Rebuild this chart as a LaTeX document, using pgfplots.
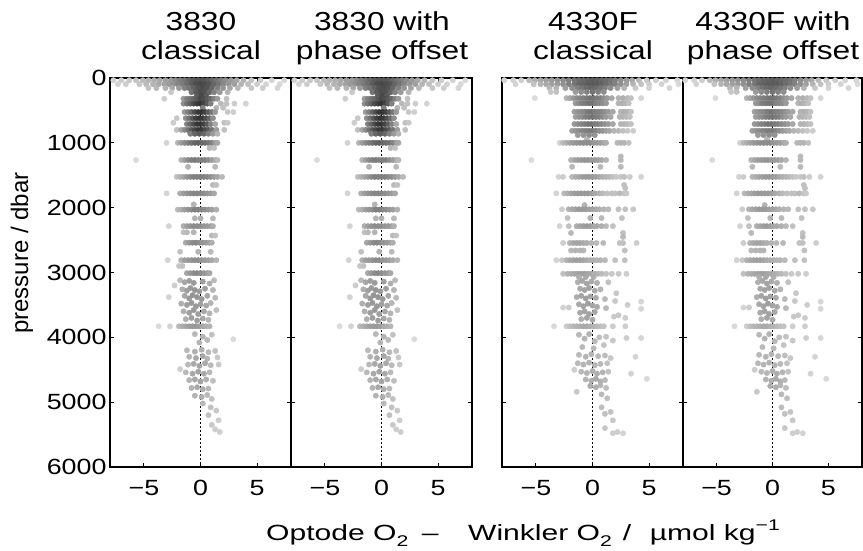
\documentclass[border=0pt]{standalone}
\usepackage{pgfplots}
\pgfplotsset{compat=1.18}
\usepackage{pgfplotstable}
\usepackage{graphicx}
\usepackage{fontspec}
\setmainfont{Liberation Sans}[FakeStretch=1.22]
\newfontfamily\plainsans{Liberation Sans}
\newcommand\fs{\fontsize{22}{26}\selectfont}
\newcommand\fst{\fontsize{26}{30}\selectfont}
\newcommand\fss{\fontsize{15.5}{15.5}\selectfont}

% 3830 optode: x = Optode - Winkler, p = pressure, c = grey level of the dot
\pgfplotstableread[row sep=\\]{
x p c\\
-7.7 35 .82\\ -7.0 35 .80\\ -6.3 35 .78\\ -5.7 35 .76\\ -5.1 35 .73\\ -4.6 35 .70\\ -4.1 35 .68\\ -3.6 35 .65\\ -3.1 35 .62\\ -2.6 35 .60\\ -2.2 35 .55\\ -1.8 35 .50\\ -1.4 35 .45\\ -1.0 35 .40\\ -0.6 35 .35\\ -0.2 35 .33\\ 0.2 35 .33\\ 0.6 35 .35\\ 1.0 35 .40\\ 1.4 35 .45\\ 1.8 35 .50\\ 2.2 35 .55\\ 2.7 35 .60\\ 3.2 35 .65\\ 3.8 35 .70\\ 4.5 35 .76\\ 5.3 35 .80\\ 6.3 35 .82\\ 7.4 35 .84\\
-7.3 95 .82\\ -6.6 95 .80\\ -5.4 95 .77\\ -4.8 95 .72\\ -4.2 95 .70\\ -3.7 95 .66\\ -3.2 95 .63\\ -2.8 95 .60\\ -2.4 95 .57\\ -2.0 95 .52\\ -1.6 95 .48\\ -1.2 95 .42\\ -0.8 95 .36\\ -0.4 95 .30\\ 0.0 95 .28\\ 0.4 95 .30\\ 0.8 95 .33\\ 1.2 95 .40\\ 1.6 95 .45\\ 2.0 95 .52\\ 2.5 95 .58\\ 3.0 95 .62\\ 3.6 95 .70\\ 4.2 95 .74\\ 5.0 95 .80\\ 5.8 95 .82\\ 7.0 95 .84\\
-4.6 155 .76\\ -3.9 155 .72\\ -3.1 155 .70\\ -2.5 155 .66\\ -1.9 155 .60\\ -1.4 155 .50\\ -1.0 155 .45\\ -0.6 155 .38\\ -0.2 155 .32\\ 0.2 155 .30\\ 0.6 155 .33\\ 1.0 155 .40\\ 1.5 155 .50\\ 2.0 155 .58\\ 2.6 155 .65\\ 3.3 155 .72\\ 4.5 155 .78\\ 5.5 155 .80\\ 6.8 155 .83\\
-2.6 220 .78\\ -0.8 220 .45\\ -0.4 220 .35\\ 0.0 220 .30\\ 0.4 220 .32\\ 0.8 220 .40\\ 1.2 220 .50\\ 1.7 220 .60\\ 2.4 220 .70\\
-0.3 275 .35\\ 0.1 275 .28\\ 0.5 275 .35\\
-3.2 320 .80\\ -1.5 320 .60\\ -1.2 320 .50\\ -0.9 320 .45\\ -0.6 320 .40\\ -0.3 320 .35\\ 0.0 320 .28\\ 0.3 320 .30\\ 0.6 320 .35\\ 0.9 320 .40\\ 1.2 320 .50\\ 1.5 320 .60\\ 2.3 320 .75\\
-1.5 395 .55\\ -1.2 395 .45\\ -0.9 395 .38\\ -0.6 395 .30\\ -0.3 395 .25\\ 0.0 395 .20\\ 0.3 395 .25\\ 0.6 395 .35\\ 0.9 395 .50\\ 1.8 395 .72\\ 2.3 395 .75\\ 3.0 395 .80\\ 4.0 395 .82\\
0.2 460 .50\\ 1.4 460 .70\\ 2.0 460 .75\\
-1.4 525 .60\\ -1.1 525 .50\\ -0.8 525 .40\\ -0.5 525 .30\\ -0.2 525 .22\\ 0.1 525 .20\\ 0.4 525 .25\\ 0.7 525 .35\\ 1.0 525 .45\\ 1.3 525 .60\\ 2.4 525 .78\\ 2.9 525 .80\\
-2.1 620 .78\\ -1.3 620 .55\\ -1.0 620 .45\\ -0.7 620 .35\\ -0.4 620 .25\\ -0.1 620 .20\\ 0.2 620 .22\\ 0.5 620 .30\\ 0.8 620 .40\\ 1.1 620 .55\\
-2.4 690 .80\\ 2.1 690 .75\\ 2.4 690 .78\\
-1.2 710 .50\\ -0.9 710 .40\\ -0.6 710 .30\\ -0.3 710 .22\\ 0.0 710 .20\\ 0.3 710 .25\\ 0.6 710 .35\\ 0.9 710 .50\\ 1.3 710 .65\\
-2.1 800 .75\\ -1.7 800 .65\\ -1.4 800 .55\\ -1.1 800 .45\\ -0.8 800 .35\\ -0.5 800 .28\\ -0.2 800 .22\\ 0.1 800 .22\\ 0.4 800 .28\\ 0.7 800 .35\\ 1.0 800 .45\\ 1.4 800 .60\\ 2.1 800 .75\\
-0.9 860 .50\\ -0.5 860 .40\\ -0.1 860 .35\\ 0.3 860 .40\\ 0.7 860 .50\\ 1.1 860 .60\\ 1.5 860 .70\\
-3.0 1000 .82\\ -2.0 1000 .70\\ -1.7 1000 .62\\ -1.4 1000 .55\\ -1.1 1000 .50\\ -0.8 1000 .45\\ -0.5 1000 .40\\ -0.2 1000 .38\\ 0.1 1000 .40\\ 0.4 1000 .42\\ 0.7 1000 .45\\ 1.0 1000 .50\\ 1.3 1000 .60\\ 1.5 1000 .65\\
0.8 1080 .72\\ 1.2 1080 .75\\
-5.7 1265 .85\\ -1.7 1265 .70\\ -1.4 1265 .62\\ -1.1 1265 .55\\ -0.8 1265 .50\\ -0.5 1265 .48\\ -0.2 1265 .50\\ 0.1 1265 .50\\ 0.4 1265 .50\\ 0.7 1265 .55\\ 1.0 1265 .60\\ 1.3 1265 .65\\ 1.5 1265 .72\\
-1.1 1370 .70\\ 1.3 1370 .72\\
-2.1 1525 .75\\ -1.8 1525 .70\\ -1.5 1525 .65\\ -1.2 1525 .60\\ -0.9 1525 .55\\ -0.6 1525 .50\\ -0.3 1525 .50\\ 0.0 1525 .50\\ 0.3 1525 .50\\ 0.6 1525 .52\\ 0.9 1525 .55\\ 1.2 1525 .60\\ 1.5 1525 .65\\ 1.9 1525 .72\\
1.1 1650 .72\\ 1.4 1650 .75\\
-3.0 1780 .82\\ -1.8 1780 .68\\ -1.5 1780 .62\\ -1.2 1780 .58\\ -0.9 1780 .55\\ -0.6 1780 .52\\ -0.3 1780 .52\\ 0.0 1780 .52\\ 0.3 1780 .55\\ 0.6 1780 .58\\ 0.9 1780 .60\\ 1.2 1780 .65\\
-0.6 1950 .70\\
-2.0 2030 .72\\ -1.7 2030 .68\\ -1.4 2030 .62\\ -1.1 2030 .58\\ -0.8 2030 .55\\ -0.5 2030 .50\\ -0.2 2030 .50\\ 0.1 2030 .52\\ 0.4 2030 .55\\ 0.7 2030 .58\\ 1.0 2030 .62\\ 1.4 2030 .68\\
-0.5 2165 .70\\ 0.0 2165 .68\\ 1.1 2165 .72\\
-2.8 2285 .82\\ -1.5 2285 .68\\ -1.2 2285 .62\\ -0.9 2285 .58\\ -0.6 2285 .55\\ -0.3 2285 .55\\ 0.0 2285 .55\\ 0.3 2285 .58\\ 0.6 2285 .60\\ 0.9 2285 .62\\ 1.1 2285 .68\\
-1.5 2380 .75\\ -1.2 2380 .72\\ -0.6 2380 .70\\ 1.0 2430 .72\\ 1.3 2430 .75\\
-1.3 2540 .65\\ -1.0 2540 .60\\ -0.7 2540 .55\\ -0.4 2540 .52\\ -0.1 2540 .55\\ 0.2 2540 .58\\ 0.5 2540 .60\\ 0.8 2540 .62\\ 1.0 2540 .68\\
-1.8 2680 .75\\ -0.2 2680 .70\\ 0.9 2680 .72\\
-2.9 2810 .82\\ -1.7 2810 .68\\ -1.4 2810 .62\\ -1.1 2810 .60\\ -0.8 2810 .58\\ -0.5 2810 .55\\ -0.2 2810 .55\\ 0.1 2810 .58\\ 0.4 2810 .60\\ 0.7 2810 .62\\ 1.0 2810 .65\\ 1.4 2810 .70\\
-1.9 2900 .78\\ -1.6 2900 .75\\
-1.2 3010 .65\\ -0.9 3010 .60\\ -0.6 3010 .55\\ -0.3 3010 .52\\ 0.0 3010 .55\\ 0.3 3010 .58\\ 0.6 3010 .60\\ 0.8 3010 .65\\
-2.3 3200 .80\\ -1.8 3120 .72\\ -1.4 3150 .65\\ -1.0 3130 .62\\ -0.6 3160 .60\\ 0.2 3140 .62\\ 0.8 3170 .68\\ 1.2 3120 .72\\
-1.6 3260 .68\\ -1.2 3280 .62\\ -0.9 3240 .60\\ -0.5 3270 .58\\ -0.1 3290 .60\\ 0.4 3250 .62\\ 1.1 3270 .70\\
-2.8 3380 .82\\ -1.4 3360 .65\\ -1.0 3400 .60\\ -0.7 3350 .58\\ -0.3 3380 .58\\ 0.1 3410 .60\\ 0.6 3360 .65\\ 1.3 3390 .72\\
-1.7 3480 .68\\ -1.2 3500 .62\\ -0.8 3470 .60\\ -0.4 3520 .60\\ 0.0 3490 .62\\ 0.5 3510 .65\\ 0.9 3470 .70\\
-1.5 3600 .68\\ -1.0 3620 .62\\ -0.6 3580 .60\\ -0.2 3640 .62\\ 0.3 3600 .65\\ 0.8 3630 .70\\ 1.4 3580 .75\\
-1.3 3720 .68\\ -0.8 3700 .62\\ -0.3 3740 .62\\ 0.2 3710 .65\\ 0.7 3730 .70\\
-3.7 3830 .85\\ -2.7 3830 .82\\ -1.9 3830 .72\\ -1.6 3830 .68\\ -1.3 3830 .65\\ -1.0 3830 .62\\ -0.7 3830 .60\\ -0.4 3830 .60\\ -0.1 3830 .62\\ 0.2 3830 .65\\ 0.5 3830 .68\\ 0.8 3830 .70\\
-0.5 3950 .72\\ 0.2 3990 .70\\ 0.6 4040 .72\\ 1.0 3960 .75\\ 2.9 4030 .85\\ -0.1 4080 .70\\
-1.2 4200 .72\\ -0.5 4220 .68\\ 0.1 4190 .68\\ 0.7 4230 .72\\ 1.3 4210 .75\\
-1.0 4300 .70\\ -0.4 4320 .66\\ 0.2 4290 .66\\ 0.6 4330 .70\\ 1.5 4310 .78\\
-1.8 4490 .80\\ -1.1 4420 .72\\ -0.6 4410 .66\\ -0.1 4440 .64\\ 0.4 4400 .66\\ 0.9 4430 .72\\ 1.6 4420 .78\\
-1.3 4540 .72\\ -0.7 4560 .66\\ -0.2 4530 .64\\ 0.3 4560 .66\\ 0.8 4540 .72\\
-1.0 4660 .70\\ -0.5 4650 .66\\ 0.0 4680 .64\\ 0.5 4650 .68\\ 1.1 4670 .74\\
-0.8 4780 .70\\ -0.3 4770 .66\\ 0.2 4800 .68\\ 0.7 4790 .72\\
-0.5 4900 .70\\ 0.1 4920 .68\\ 0.6 4890 .72\\ 1.0 4950 .75\\
0.2 5020 .72\\ 0.9 5080 .75\\ 1.4 5130 .78\\ 0.7 5200 .75\\ 1.6 5280 .80\\ 1.0 5350 .78\\ 1.3 5420 .80\\ 1.7 5460 .80\\
}\tA

% 4330F optode
\pgfplotstableread[row sep=\\]{
x p c\\
-7.8 35 .83\\ -7.0 35 .82\\ -6.3 35 .80\\ -5.6 35 .72\\ -5.1 35 .68\\ -4.6 35 .65\\ -4.1 35 .62\\ -3.6 35 .60\\ -3.1 35 .58\\ -2.6 35 .55\\ -2.1 35 .50\\ -1.6 35 .45\\ -1.2 35 .42\\ -0.8 35 .40\\ -0.4 35 .38\\ 0.0 35 .36\\ 0.4 35 .38\\ 0.8 35 .40\\ 1.2 35 .42\\ 1.6 35 .45\\ 2.0 35 .50\\ 2.5 35 .55\\ 3.0 35 .60\\ 3.5 35 .65\\ 4.1 35 .72\\ 4.8 35 .78\\ 5.6 35 .80\\ 6.5 35 .82\\ 7.5 35 .83\\
-6.8 95 .82\\ -5.2 95 .75\\ -4.6 95 .70\\ -4.1 95 .66\\ -3.6 95 .62\\ -3.1 95 .60\\ -2.6 95 .56\\ -2.1 95 .50\\ -1.6 95 .45\\ -1.2 95 .40\\ -0.8 95 .38\\ -0.4 95 .36\\ 0.0 95 .35\\ 0.4 95 .36\\ 0.8 95 .38\\ 1.2 95 .42\\ 1.6 95 .46\\ 2.0 95 .50\\ 2.5 95 .56\\ 3.0 95 .62\\ 3.6 95 .70\\ 4.3 95 .75\\ 5.0 95 .80\\ 6.1 95 .82\\ 7.6 95 .84\\
-3.8 155 .72\\ -3.2 155 .70\\ -2.4 155 .62\\ -1.8 155 .55\\ -1.3 155 .50\\ -0.9 155 .45\\ -0.5 155 .42\\ -0.1 155 .40\\ 0.3 155 .42\\ 0.7 155 .45\\ 1.1 155 .50\\ 1.6 155 .55\\ 2.2 155 .62\\ 2.8 155 .70\\ 3.8 155 .78\\ 5.0 155 .82\\ 6.8 155 .83\\
-3.7 215 .78\\ -3.2 215 .75\\ -1.5 215 .60\\ -1.0 215 .55\\ -0.5 215 .50\\ 0.0 215 .45\\ 0.5 215 .50\\ 1.0 215 .55\\
-5.1 310 .85\\ -2.3 310 .70\\ -2.0 310 .65\\ -1.7 310 .60\\ -1.4 310 .55\\ -1.1 310 .52\\ -0.8 310 .50\\ -0.5 310 .48\\ -0.2 310 .45\\ 0.1 310 .45\\ 0.4 310 .48\\ 0.7 310 .50\\ 1.0 310 .55\\ 1.3 310 .60\\ 1.7 310 .65\\ 2.3 310 .70\\ 2.7 310 .68\\ 3.1 310 .72\\ 3.4 310 .75\\ 4.3 310 .83\\
-1.5 390 .60\\ -1.2 390 .55\\ -0.9 390 .50\\ -0.6 390 .48\\ -0.3 390 .45\\ 0.0 390 .45\\ 0.3 390 .50\\ 0.6 390 .52\\ 0.9 390 .55\\ 1.2 390 .60\\ 2.3 390 .70\\ 2.6 390 .68\\ 2.9 390 .70\\ 3.2 390 .75\\
-1.6 520 .62\\ -1.3 520 .58\\ -1.0 520 .55\\ -0.7 520 .52\\ -0.4 520 .48\\ -0.1 520 .45\\ 0.2 520 .48\\ 0.5 520 .50\\ 0.8 520 .52\\ 1.1 520 .55\\ 1.4 520 .60\\ 1.8 520 .65\\ 2.5 520 .70\\ 2.8 520 .68\\ 3.1 520 .70\\ 3.4 520 .75\\
-1.5 600 .62\\ -1.2 600 .58\\ -0.9 600 .55\\ -0.6 600 .50\\ -0.3 600 .48\\ 0.0 600 .45\\ 0.3 600 .48\\ 0.6 600 .50\\ 0.9 600 .55\\ 1.2 600 .60\\ 1.6 600 .65\\ 2.4 600 .70\\ 2.7 600 .70\\ 3.0 600 .72\\ 3.3 600 .75\\
-1.6 710 .60\\ -1.3 710 .56\\ -1.0 710 .52\\ -0.7 710 .50\\ -0.4 710 .46\\ -0.1 710 .45\\ 0.2 710 .48\\ 0.5 710 .50\\ 0.8 710 .53\\ 1.1 710 .56\\ 1.4 710 .60\\ 1.8 710 .65\\ 2.5 710 .70\\ 2.8 710 .70\\ 3.1 710 .72\\ 3.4 710 .75\\
-1.8 815 .62\\ -1.5 815 .58\\ -1.2 815 .55\\ -0.9 815 .52\\ -0.6 815 .50\\ -0.3 815 .48\\ 0.0 815 .48\\ 0.3 815 .50\\ 0.6 815 .55\\ 0.9 815 .58\\ 1.2 815 .62\\ 1.5 815 .65\\ 1.9 815 .70\\ 2.3 815 .72\\ 2.7 815 .75\\ 3.1 815 .78\\ 3.6 815 .80\\
-1.3 880 .60\\ -0.8 880 .58\\ -0.3 880 .55\\ 0.2 880 .58\\ -0.5 950 .70\\
-2.9 1000 .82\\ -2.6 1000 .72\\ -2.3 1000 .68\\ -2.0 1000 .64\\ -1.7 1000 .60\\ -1.4 1000 .58\\ -1.1 1000 .56\\ -0.8 1000 .55\\ -0.5 1000 .55\\ -0.2 1000 .55\\ 0.1 1000 .58\\ 0.4 1000 .60\\ 0.7 1000 .62\\ 1.0 1000 .65\\ 1.2 1000 .68\\ 2.2 1000 .72\\ 2.5 1000 .70\\ 2.8 1000 .70\\ 3.2 1000 .75\\
2.5 1210 .72\\
-5.4 1265 .85\\ -1.9 1265 .70\\ -1.6 1265 .65\\ -1.3 1265 .62\\ -1.0 1265 .60\\ -0.7 1265 .58\\ -0.4 1265 .58\\ -0.1 1265 .60\\ 0.2 1265 .60\\ 0.5 1265 .62\\ 0.8 1265 .65\\ 1.2 1265 .70\\ 2.5 1265 .72\\
-1.8 1370 .72\\ 0.7 1370 .72\\ 2.5 1370 .72\\
-3.0 1525 .82\\ -2.6 1525 .80\\ -1.8 1525 .72\\ -1.5 1525 .68\\ -1.2 1525 .65\\ -0.9 1525 .62\\ -0.6 1525 .60\\ -0.3 1525 .60\\ 0.0 1525 .60\\ 0.3 1525 .62\\ 0.6 1525 .65\\ 0.9 1525 .68\\ 1.2 1525 .70\\ 1.5 1525 .72\\ 1.8 1525 .75\\ 2.1 1525 .78\\ 2.5 1525 .78\\ 2.8 1525 .75\\ 3.3 1525 .80\\ 4.3 1525 .82\\
2.8 1650 .75\\ 2.9 1700 .75\\
-3.2 1780 .82\\ -2.5 1780 .72\\ -2.2 1780 .68\\ -1.9 1780 .65\\ -1.6 1780 .62\\ -1.3 1780 .60\\ -1.0 1780 .60\\ -0.7 1780 .60\\ -0.4 1780 .60\\ -0.1 1780 .62\\ 0.2 1780 .65\\ 0.6 1780 .68\\ 0.9 1780 .72\\ 1.3 1780 .75\\ 1.7 1780 .75\\ 2.0 1780 .75\\ 2.4 1780 .72\\ 2.8 1780 .75\\ 3.0 1780 .78\\
-0.7 1960 .70\\
-2.7 2025 .80\\ -2.1 2025 .70\\ -1.8 2025 .66\\ -1.5 2025 .63\\ -1.2 2025 .60\\ -0.9 2025 .60\\ -0.6 2025 .60\\ -0.3 2025 .62\\ 0.0 2025 .63\\ 0.3 2025 .65\\ 0.6 2025 .68\\ 1.0 2025 .70\\ 1.4 2025 .72\\ 2.3 2025 .75\\ 2.9 2025 .75\\ 3.6 2025 .78\\
-2.2 2160 .75\\ -0.2 2160 .70\\ 0.8 2160 .72\\ 2.6 2160 .75\\
-2.9 2285 .82\\ -2.1 2285 .75\\ -1.4 2285 .68\\ -1.1 2285 .65\\ -0.8 2285 .62\\ -0.5 2285 .60\\ -0.2 2285 .62\\ 0.1 2285 .65\\ 0.4 2285 .66\\ 0.8 2285 .68\\ 1.2 2285 .72\\ 1.8 2285 .75\\
-1.9 2390 .72\\ 2.7 2390 .75\\ 2.7 2450 .72\\
-2.6 2545 .80\\ -2.0 2545 .70\\ -1.7 2545 .66\\ -1.4 2545 .64\\ -1.1 2545 .64\\ -0.8 2545 .66\\ -0.5 2545 .68\\ -0.1 2545 .70\\ 0.35 2545 .72\\ 0.95 2545 .72\\ 2.4 2545 .75\\ 2.7 2545 .75\\ 3.9 2545 .80\\
-1.9 2660 .72\\ -1.5 2660 .70\\ -1.1 2660 .70\\ -0.8 2660 .70\\ 2.85 2660 .75\\
-3.2 2810 .82\\ -2.7 2810 .78\\ -2.3 2810 .70\\ -2.0 2810 .66\\ -1.7 2810 .64\\ -1.4 2810 .62\\ -1.1 2810 .62\\ -0.8 2810 .64\\ -0.5 2810 .66\\ -0.2 2810 .68\\ 0.1 2810 .68\\ 0.4 2810 .70\\ 0.7 2810 .70\\ 1.1 2810 .72\\ 2.0 2810 .75\\ 2.85 2810 .75\\
-2.6 3020 .75\\ -2.2 3020 .70\\ -1.9 3020 .68\\ -1.6 3020 .66\\ -1.3 3020 .64\\ -1.0 3020 .62\\ -0.7 3020 .62\\ -0.4 3020 .64\\ -0.1 3020 .66\\ 0.2 3020 .68\\ 0.5 3020 .70\\ 0.8 3020 .72\\ 1.2 3020 .75\\ 1.7 3020 .78\\ 2.3 3020 .78\\ 3.0 3020 .80\\
-1.2 3070 .68\\ -0.6 3070 .66\\ 0.1 3070 .68\\
-1.3 3150 .68\\ -0.9 3130 .65\\ -0.5 3170 .64\\ -0.1 3140 .66\\ 0.4 3160 .68\\ 1.4 3150 .75\\
-1.1 3250 .66\\ -0.7 3270 .64\\ -0.3 3240 .64\\ 0.2 3280 .66\\ 0.7 3260 .70\\ 2.1 3320 .78\\
-1.4 3380 .68\\ -1.0 3360 .64\\ -0.6 3400 .62\\ -0.2 3370 .64\\ 0.3 3390 .66\\ 1.1 3410 .72\\
-2.6 3540 .82\\ -2.1 3540 .80\\ -1.2 3490 .66\\ -0.8 3520 .64\\ -0.4 3480 .62\\ 0.0 3510 .64\\ 0.4 3530 .66\\ 1.2 3550 .72\\ 2.0 3440 .78\\ 4.3 3560 .83\\
-1.1 3620 .66\\ -0.7 3600 .64\\ -0.3 3640 .64\\ 0.2 3610 .66\\ 3.1 3500 .80\\ 4.3 3450 .83\\
-1.0 3720 .68\\ -0.5 3700 .64\\ 0.0 3730 .66\\ 1.9 3680 .78\\ 2.3 3660 .78\\ 2.9 3700 .80\\
-3.4 3830 .84\\ -2.3 3830 .80\\ -2.0 3830 .75\\ -1.7 3830 .72\\ -1.4 3830 .70\\ -1.1 3830 .68\\ -0.8 3830 .66\\ -0.5 3830 .66\\ -0.2 3830 .68\\ 0.1 3830 .70\\ 0.4 3830 .72\\ 0.7 3830 .74\\ 1.0 3830 .76\\ 1.8 3830 .80\\ 2.9 3830 .80\\
-1.2 3960 .72\\ -0.7 4020 .70\\ -0.3 3950 .70\\ 0.2 4060 .72\\ 0.6 4000 .74\\ 1.2 3990 .76\\ 1.8 4050 .78\\ 3.0 4010 .80\\ 4.3 4010 .83\\ -0.9 4150 .72\\ 0.1 4170 .72\\ 1.0 4120 .76\\
-1.2 4270 .72\\ -0.6 4300 .70\\ -0.1 4260 .70\\ 0.5 4290 .72\\ 1.1 4280 .74\\ 1.6 4320 .78\\ 3.8 4300 .83\\
-1.3 4400 .72\\ -0.8 4420 .70\\ -0.3 4390 .70\\ 0.2 4430 .70\\ 0.7 4410 .72\\ 1.3 4400 .75\\
-1.6 4500 .80\\ -1.0 4530 .72\\ -0.5 4550 .70\\ 0.0 4520 .68\\ 0.4 4560 .68\\ 0.9 4540 .70\\ 1.4 4530 .75\\ 3.4 4560 .82\\
-0.6 4650 .70\\ -0.1 4670 .68\\ 0.3 4640 .66\\ 0.7 4680 .68\\ 1.1 4660 .72\\ 4.8 4640 .84\\
-0.2 4750 .68\\ 0.3 4770 .68\\ 0.7 4740 .70\\ 1.2 4780 .74\\ -1.4 4840 .78\\
0.8 4880 .72\\ 1.3 4940 .74\\ 0.8 5080 .74\\ 1.1 5180 .75\\ 1.6 5150 .76\\ 1.8 5280 .78\\ 1.1 5400 .78\\ 1.8 5480 .80\\ 2.2 5460 .80\\ 2.7 5480 .82\\
}\tB

\pgfplotsset{
  panel/.style={
    scale only axis, width=181pt, height=389pt, anchor=south west,
    xmin=-8, xmax=8, ymin=0, ymax=6000, y dir=reverse,
    xtick={-5,0,5}, xticklabels={−5,0,5},
    ytick={0,1000,2000,3000,4000,5000,6000}, yticklabels={},
    tick align=inside, major tick length=4pt,
    tick style={black, line width=1pt},
    axis line style={black, line width=1.3pt},
    tick label style={font=\fs},
    xticklabel style={yshift=-10pt},
    colormap={bw}{gray(0cm)=(0); gray(1cm)=(1)},
    point meta min=0, point meta max=1,
  },
  pts/.style={scatter, only marks, mark=*, mark size=2.7pt, point meta=explicit,
    scatter/use mapped color={draw=mapped color, fill=mapped color}},
  zl/.style={black, line width=0.7pt, dash pattern=on 2pt off 2pt},
}

\begin{document}
\begin{tikzpicture}[font=\fs]
\path[use as bounding box] (0,0) rectangle (863pt,550pt);

\begin{axis}[panel, at={(110pt,83pt)}, yticklabels={0,1000,2000,3000,4000,5000,6000}]
\addplot[pts] table[x=x, y=p, meta=c] {\tA};
\addplot[zl] coordinates {(0,0) (0,6000)};
\end{axis}

\begin{axis}[panel, at={(291pt,83pt)}]
\addplot[pts] table[x=x, y=p, meta=c] {\tA};
\addplot[zl] coordinates {(0,0) (0,6000)};
\end{axis}

\begin{axis}[panel, at={(502pt,83pt)}]
\addplot[pts] table[x=x, y=p, meta=c] {\tB};
\addplot[zl] coordinates {(0,0) (0,6000)};
\end{axis}

\begin{axis}[panel, at={(683pt,83pt)}, width=179pt]
\addplot[pts] table[x=x, y=p, meta=c] {\tB};
\addplot[zl] coordinates {(0,0) (0,6000)};
\end{axis}

% titles
\begin{scope}[font=\fst]
\node[anchor=base] at (201pt,519pt) {3830};
\node[anchor=base] at (201pt,490pt) {classical};
\node[anchor=base] at (382pt,519pt) {3830 with};
\node[anchor=base] at (382pt,490pt) {phase offset};
\node[anchor=base] at (593pt,519pt) {4330F};
\node[anchor=base] at (593pt,490pt) {classical};
\node[anchor=base] at (773pt,519pt) {4330F with};
\node[anchor=base] at (773pt,490pt) {phase offset};
\end{scope}

% axis labels
\node[rotate=90, anchor=center, font=\plainsans\fontsize{24}{28}\selectfont] at (22pt,297pt) {pressure / dbar};
\node[anchor=base west, inner sep=0pt] at (266pt,10pt)
  {\scalebox{1.12}[1]{Optode O\raisebox{-0.3em}{\fss 2}\hspace{0.55em}–\hspace{1.2em}Winkler O\raisebox{-0.3em}{\fss 2}\hspace{0.45em}/\hspace{0.75em}µmol kg\raisebox{0.45em}{\fss −1}}};
\end{tikzpicture}
\end{document}
